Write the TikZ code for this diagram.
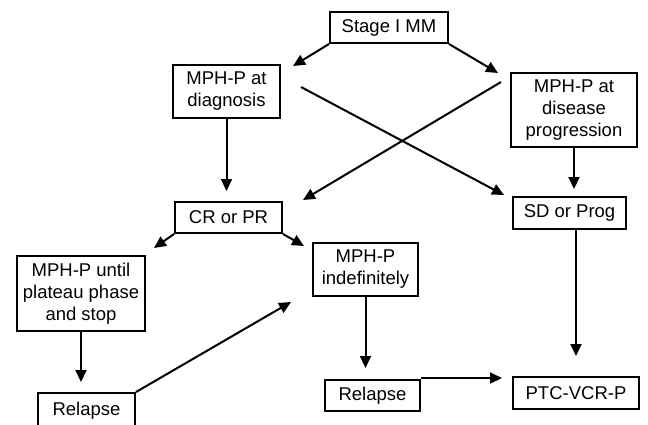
\documentclass[tikz,border=0pt]{standalone}
\usepackage{fontspec}
\setmainfont{Liberation Sans}
\usetikzlibrary{arrows.meta,calc}
\tikzset{
  box/.style={draw, line width=2pt, rectangle, inner sep=0pt, align=center,
    font=\fontsize{18.5}{22}\selectfont},
  arr/.style={line width=2pt, -{Triangle[length=12pt,width=11pt]}},
}
\begin{document}
\begin{tikzpicture}[x=1pt,y=-1pt]
\useasboundingbox (0,0) rectangle (648,424);
\node[box, minimum width=118pt, minimum height=31pt] (stage) at (389,27.5) {Stage I MM};
\node[box, minimum width=107pt, minimum height=53pt] (diag) at (226.5,91.5) {MPH-P at\\diagnosis};
\node[box, minimum width=126pt, minimum height=74pt] (prog) at (574,110) {MPH-P at\\disease\\progression};
\node[box, minimum width=107pt, minimum height=31pt] (crpr) at (228.5,217.5) {CR or PR};
\node[box, minimum width=113pt, minimum height=32pt] (sdprog) at (569.5,213) {SD or Prog};
\node[box, minimum width=128pt, minimum height=75pt] (plateau) at (81,293.5) {MPH-P until\\plateau phase\\and stop};
\node[box, minimum width=105pt, minimum height=53pt] (indef) at (365.5,269.5) {MPH-P\\indefinitely};
\node[box, minimum width=97pt, minimum height=35pt] (relL) at (86.5,410.5) {Relapse};
\node[box, minimum width=95pt, minimum height=31pt] (relR) at (372.5,395.5) {Relapse};
\node[box, minimum width=126pt, minimum height=32pt] (ptc) at (576,393) {PTC-VCR-P};
% arrows
\draw[arr] (stage.south west) -- ($(diag.north east)+(12,2)$);
\draw[arr] (stage.south east) -- ($(prog.north west)+(-12,1)$);
\draw[arr] ($(diag.east)+(20,-4.5)$) -- ($(sdprog.north west)+(-8,-1)$);
\draw[arr] ($(prog.north west)+(-9,10)$) -- ($(crpr.north east)+(20,-1)$);
\draw[arr] (diag.south) -- ($(diag.south)+(0,72)$);
\draw[arr] (prog.south) -- ($(prog.south)+(0,41)$);
\draw[arr] (crpr.south west) -- ($(crpr.south west)+(-20,14)$);
\draw[arr] (crpr.south east) -- ($(crpr.south east)+(21,12)$);
\draw[arr] (plateau.south) -- ($(plateau.south)+(0,50)$);
\draw[arr] (relL.north east) -- ($(indef.south west)+(-21,5)$);
\draw[arr] (indef.south) -- ($(indef.south)+(0,71)$);
\draw[arr] (sdprog.south -| ptc.north) -- ($(ptc.north)+(0,-20)$);
\draw[arr] ($(relR.north east)+(0,-1)$) -- ($(relR.north east -| ptc.west)+(-10,-1)$);
\end{tikzpicture}
\end{document}
